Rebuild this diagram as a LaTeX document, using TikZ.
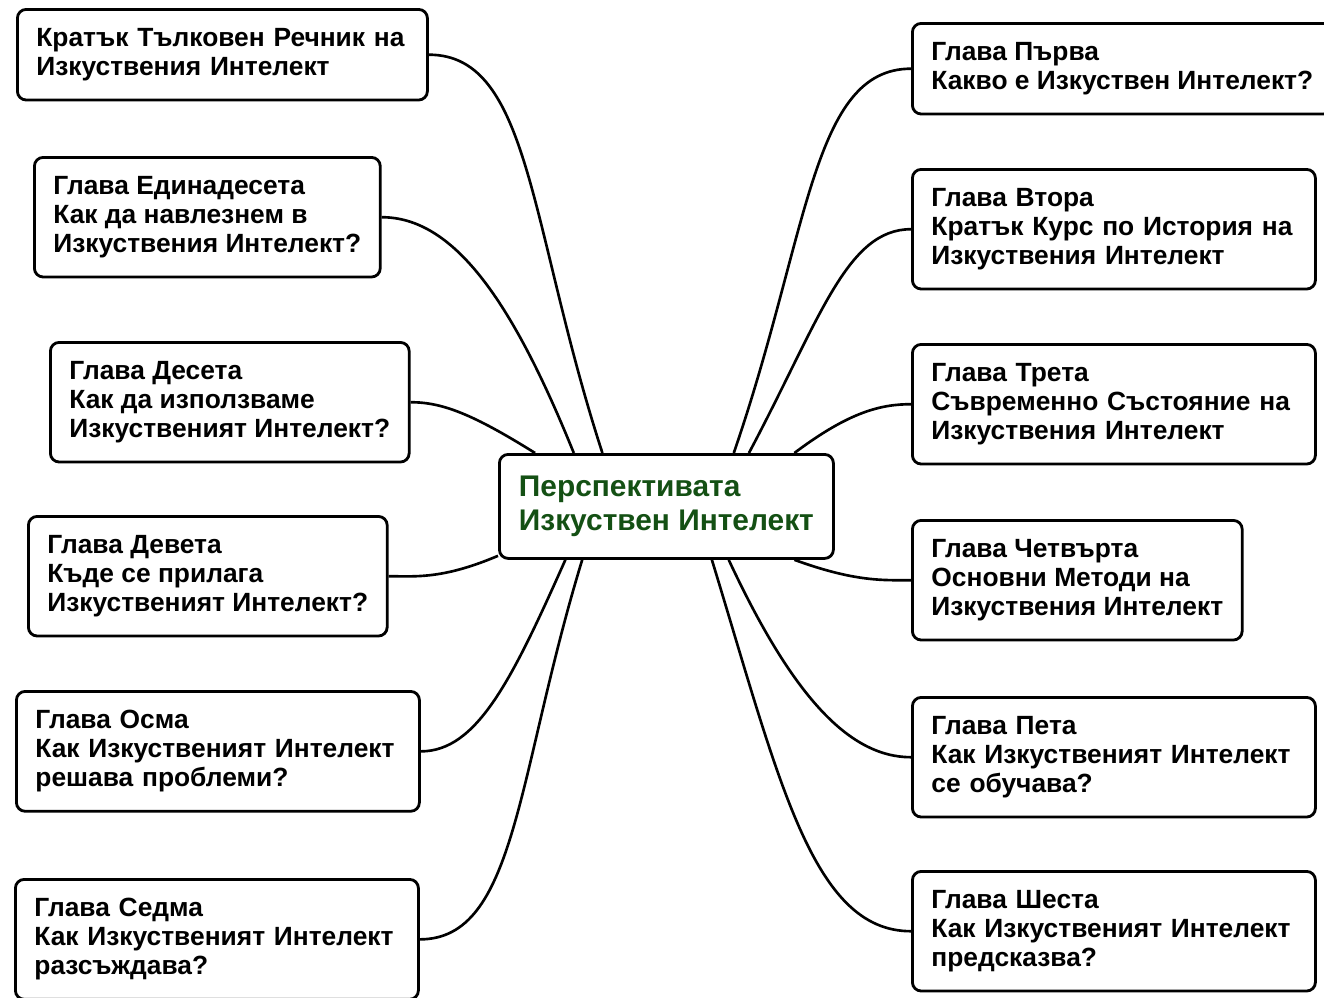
\documentclass[tikz,border=0pt]{standalone}
\usepackage{fontspec}
\setmainfont{Liberation Sans}
\usetikzlibrary{calc}
\definecolor{titlegreen}{RGB}{20,80,20}

\tikzset{
	chapter/.style={draw, line width=1.6pt, rounded corners=5pt, align=left, anchor=north west,
		inner xsep=0.38cm, inner ysep=0.38cm, font=\fontsize{15}{16.5}\selectfont\bfseries},
	wide/.style={text width=7.3cm},
	branch/.style={line width=1.5pt, out looseness=0.6, in looseness=1.4},
}

\begin{document}
\begin{tikzpicture}
	\useasboundingbox (0,0) rectangle (26.48,-19.94);
	
	\node[chapter, text=titlegreen, font=\fontsize{17}{19}\selectfont\bfseries,
		minimum width=6.68cm, minimum height=2.08cm] (c) at (9.96,-9.06) {Перспективата\\Изкуствен Интелект};
	
	\node[chapter, text width=7.44cm] (l1) at (0.32,-0.16) {Кратък Тълковен Речник на\\Изкуствения Интелект};
	\node[chapter] (l2) at (0.66,-3.12) {Глава Единадесета\\Как да навлезнем в\\Изкуствения Интелект?};
	\node[chapter] (l3) at (0.98,-6.82) {Глава Десета\\Как да използваме\\Изкуственият Интелект?};
	\node[chapter] (l4) at (0.54,-10.30) {Глава Девета\\Къде се прилага\\Изкуственият Интелект?};
	\node[chapter, wide] (l5) at (0.30,-13.80) {Глава Осма\\Как Изкуственият Интелект\\решава проблеми?};
	\node[chapter, wide] (l6) at (0.28,-17.56) {Глава Седма\\Как Изкуственият Интелект\\разсъждава?};
	
	\node[chapter] (r1) at (18.22,-0.44) {Глава Първа\\Какво е Изкуствен Интелект?};
	\node[chapter, wide] (r2) at (18.22,-3.36) {Глава Втора\\Кратък Курс по История на\\Изкуствения Интелект};
	\node[chapter, wide] (r3) at (18.22,-6.86) {Глава Трета\\Съвременно Състояние на\\Изкуствения Интелект};
	\node[chapter] (r4) at (18.22,-10.38) {Глава Четвърта\\Основни Методи на\\Изкуствения Интелект};
	\node[chapter, wide] (r5) at (18.22,-13.92) {Глава Пета\\Как Изкуственият Интелект\\се обучава?};
	\node[chapter, wide] (r6) at (18.22,-17.40) {Глава Шеста\\Как Изкуственият Интелект\\предсказва?};
	
	% branches above the centre
	\foreach \b/\f/\a in {l1/0.31/108, l2/0.225/112, l3/0.11/148}
		\draw[branch] (\b.east) to[out=0,in=\a] ($(c.north west)!\f!(c.north east)$);
	\foreach \b/\f/\a in {r1/0.70/71, r2/0.745/62, r3/0.88/37}
		\draw[branch] (\b.west) to[out=180,in=\a] ($(c.north west)!\f!(c.north east)$);
	
	% branches below the centre
	\foreach \b/\f/\a in {l5/0.20/246, l6/0.25/253}
		\draw[branch] (\b.east) to[out=0,in=\a] ($(c.south west)!\f!(c.south east)$);
	\foreach \b/\f/\a in {r4/0.88/-20, r5/0.685/-65, r6/0.635/-73}
		\draw[branch] (\b.west) to[out=180,in=\a] ($(c.south west)!\f!(c.south east)$);
	
	\draw[branch] (l4.east) to[out=0,in=203] ($(c.south west)+(0,0.08)$);
\end{tikzpicture}
\end{document}
